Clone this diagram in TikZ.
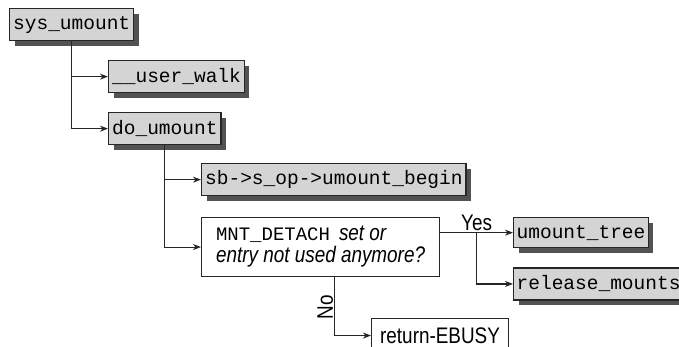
\documentclass[tikz,border=0pt]{standalone}
\usepackage{fontspec}
\setmonofont{Liberation Mono}
\newfontfamily\condfont[FakeStretch=0.84]{Liberation Sans}
\usetikzlibrary{arrows.meta, positioning, calc, shadows}

\begin{document}
\begin{tikzpicture}[
    x=1pt, y=-1pt,
    func/.style={rectangle, draw=black!85, line width=1.3pt, fill=black!17, anchor=north west,
      inner xsep=3.5pt, inner ysep=0pt, minimum height=32pt,
      font=\fontsize{19.5}{22}\selectfont\ttfamily,
      drop shadow={shadow xshift=5pt, shadow yshift=-5pt, fill=black!68, opacity=1}},
    cond/.style={rectangle, draw=black!85, line width=1.1pt, fill=white, anchor=north west,
      align=left, font=\fontsize{22.5}{22}\selectfont\condfont},
    arrow/.style={-{Stealth[length=8pt, width=6pt, inset=2.5pt]}, line width=1.1pt, draw=black!85},
    lbl/.style={font=\fontsize{22.5}{22}\selectfont\condfont, inner sep=1.5pt}
  ]
    \useasboundingbox (0,0) rectangle (679,347);

    % call chain
    \node[func] (sysumount) at (9,8) {sys\_umount};
    \node[func] (userwalk) at (108,60) {\_\_user\_walk};
    \node[func] (doumount) at (108,112) {do\_umount};
    \node[func] (umountbegin) at (201,163) {sb->s\_op->umount\_begin};

    % decision
    \node[cond, minimum width=238pt, minimum height=59pt, inner xsep=12pt] (mntdetach) at (201,217)
      {{\fontsize{19}{22}\selectfont\ttfamily MNT\_DETACH}\hspace{9pt}\textit{set or}\\
       \textit{entry not used anymore?}};

    % outcomes
    \node[func, minimum height=30pt, inner xsep=3pt] (umounttree) at (513,217) {umount\_tree};
    \node[func, minimum height=32pt, inner xsep=3pt, below=19pt of umounttree.south west, anchor=north west] (releasemounts) {release\_mounts};
    \node[cond, minimum width=137pt, minimum height=34pt] (returnebusy) at (371,318) {return-EBUSY};

    % connectors
    \draw[arrow] (sysumount.south) |- (userwalk.west);
    \draw[arrow] (sysumount.south) |- (doumount.west);
    \draw[arrow] (doumount.south) |- (umountbegin.west);
    \draw[arrow] (doumount.south) |- (mntdetach.west);

    \coordinate (yesfork) at ($(mntdetach.east |- umounttree.west)!0.5!(umounttree.west)$);
    \draw[arrow] (mntdetach.east |- umounttree.west) -- (umounttree.west);
    \draw[arrow] (yesfork) |- (releasemounts.west);
    \node[lbl, anchor=south] (yes) at (yesfork) {Yes};

    \coordinate (nostart) at ($(mntdetach.south west)!0.56!(mntdetach.south east)$);
    \draw[arrow] (nostart) |- (returnebusy.west);
    \node[lbl, rotate=90, anchor=south] (no) at ($(nostart)!0.52!(nostart |- returnebusy.west)$) {No};

  \end{tikzpicture}
\end{document}
